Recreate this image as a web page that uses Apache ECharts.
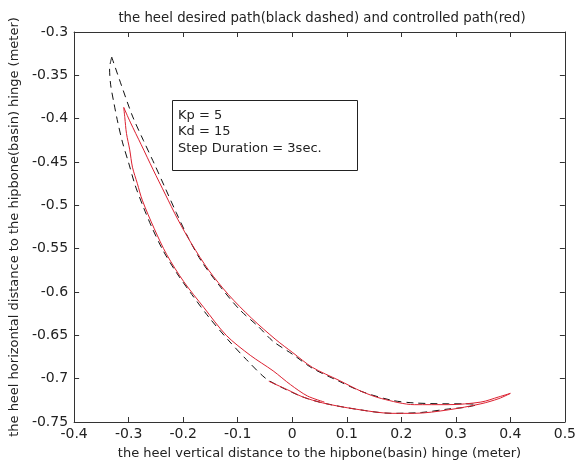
<!DOCTYPE html>
<html>
<head>
<meta charset="utf-8">
<script src="https://cdn.jsdelivr.net/npm/echarts@6/dist/echarts.min.js"></script>
<style>html,body{margin:0;padding:0;background:#fff;}#c{width:579px;height:468px;}</style>
</head>
<body>
<div id="c"></div>
<script>
// Desired heel path (black dashed), [x, y] in meters
const desiredPath = [
  [-0.331,-0.329],[-0.335,-0.342],[-0.333,-0.361],[-0.327,-0.382],[-0.320,-0.404],
  [-0.311,-0.428],[-0.300,-0.451],[-0.288,-0.477],[-0.273,-0.502],[-0.257,-0.526],
  [-0.237,-0.552],[-0.213,-0.577],[-0.184,-0.603],[-0.153,-0.629],[-0.118,-0.655],
  [-0.084,-0.678],[-0.050,-0.699],[-0.026,-0.708],[0.019,-0.721],[0.056,-0.728],
  [0.115,-0.735],[0.183,-0.740],[0.237,-0.739],[0.286,-0.735],[0.318,-0.733],
  [0.338,-0.730],[0.318,-0.729],[0.286,-0.729],[0.224,-0.728],[0.183,-0.725],
  [0.128,-0.715],[0.086,-0.703],[0.037,-0.688],[0.001,-0.672],[-0.035,-0.657],
  [-0.062,-0.640],[-0.097,-0.620],[-0.133,-0.593],[-0.166,-0.565],[-0.191,-0.537],
  [-0.213,-0.508],[-0.233,-0.480],[-0.253,-0.452],[-0.273,-0.425],[-0.293,-0.397],
  [-0.313,-0.362],[-0.331,-0.329]
];
// Controlled heel path (red), [x, y] in meters
const controlledPath = [
  [-0.043,-0.703],[-0.008,-0.713],[0.019,-0.721],[0.056,-0.728],[0.115,-0.735],
  [0.183,-0.740],[0.224,-0.740],[0.286,-0.736],[0.346,-0.729],[0.379,-0.723],
  [0.400,-0.717],[0.379,-0.721],[0.346,-0.727],[0.286,-0.730],[0.224,-0.730],
  [0.164,-0.723],[0.128,-0.715],[0.086,-0.702],[0.037,-0.687],[0.001,-0.670],
  [-0.030,-0.655],[-0.075,-0.630],[-0.117,-0.603],[-0.153,-0.575],[-0.184,-0.545],
  [-0.210,-0.516],[-0.233,-0.487],[-0.255,-0.459],[-0.277,-0.430],[-0.297,-0.404],
  [-0.309,-0.387],[-0.307,-0.399],[-0.304,-0.417],[-0.298,-0.436],[-0.293,-0.456],
  [-0.284,-0.475],[-0.275,-0.494],[-0.253,-0.527],[-0.230,-0.557],[-0.199,-0.588],
  [-0.162,-0.618],[-0.121,-0.650],[-0.077,-0.673],[-0.035,-0.691],[-0.003,-0.707],
  [0.028,-0.720],[0.059,-0.727]
];
const titleText = 'the heel desired path(black dashed) and controlled path(red)';
const xName = 'the heel vertical distance to the hipbone(basin) hinge (meter)';
const yName = 'the heel horizontal distance to the hipbone(basin) hinge (meter)';
const annotationLines = ['Kp = 5', 'Kd = 15', 'Step Duration = 3sec.'];
const xMin = -0.4, xMax = 0.5, xStep = 0.1;
const yMin = -0.75, yMax = -0.3, yStep = 0.05;

const fmt = v => String(parseFloat(v.toFixed(2)));
const font = '"DejaVu Sans", Verdana, sans-serif';
const axisCommon = {
  axisLine: { show: true, onZero: false, lineStyle: { color: '#333', width: 1 } },
  axisTick: { show: true, inside: true, length: 5, lineStyle: { color: '#333' } },
  splitLine: { show: false }
};
const chart = echarts.init(document.getElementById('c'));
chart.setOption({
  animation: false,
  backgroundColor: '#fff',
  title: {
    text: titleText, left: 317, top: 7, textAlign: 'center',
    textStyle: { fontSize: 13.3, fontWeight: 'normal', color: '#222', fontFamily: font }
  },
  grid: { left: 69, right: 14, top: 32, bottom: 46 },
  xAxis: [
    Object.assign({
      type: 'value', min: xMin, max: xMax, interval: xStep, position: 'bottom',
      name: xName, nameLocation: 'middle', nameGap: 25,
      nameTextStyle: { fontSize: 13, color: '#222', fontFamily: font },
      axisLabel: { formatter: fmt, fontSize: 14, color: '#222', margin: 5, fontFamily: font }
    }, axisCommon),
    Object.assign({
      type: 'value', min: xMin, max: xMax, interval: xStep, position: 'top',
      axisLabel: { show: false }
    }, axisCommon)
  ],
  yAxis: [
    Object.assign({
      type: 'value', min: yMin, max: yMax, interval: yStep, position: 'left',
      name: yName, nameLocation: 'middle', nameGap: 45, nameRotate: 90,
      nameTextStyle: { fontSize: 13, color: '#222', fontFamily: font },
      axisLabel: { formatter: fmt, fontSize: 14, color: '#222', margin: 6, fontFamily: font }
    }, axisCommon),
    Object.assign({
      type: 'value', min: yMin, max: yMax, interval: yStep, position: 'right',
      axisLabel: { show: false }
    }, axisCommon)
  ],
  series: [
    {
      type: 'line', name: 'desired', data: desiredPath, showSymbol: false, symbol: 'none',
      smooth: 0.3,
      lineStyle: { color: '#111', width: 1, type: [7, 5] }, z: 2
    },
    {
      type: 'line', name: 'controlled', data: controlledPath, showSymbol: false, symbol: 'none',
      smooth: 0.3,
      lineStyle: { color: '#dc2030', width: 1 }, z: 3
    }
  ],
  graphic: [
    { type: 'rect', left: 172, top: 100, shape: { width: 185, height: 70 },
      style: { fill: '#fff', stroke: '#222', lineWidth: 1 }, z: 10 },
    { type: 'text', left: 178, top: 107, z: 11,
      style: { text: annotationLines.join('\n'), font: '13px ' + font, fill: '#222', lineHeight: 16.5 } }
  ]
});
</script>
</body>
</html>
